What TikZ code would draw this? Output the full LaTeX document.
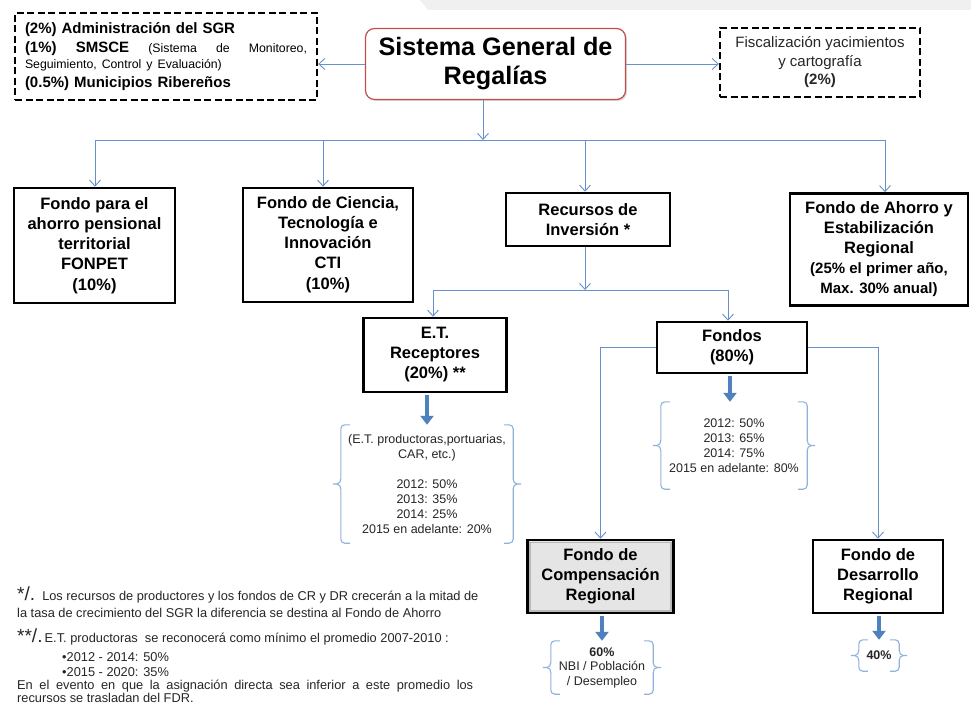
\documentclass[tikz,border=0pt]{standalone}
\usepackage{fontspec}
\setmainfont{Liberation Sans}
\usetikzlibrary{arrows.meta,calc,shadows}
\definecolor{connc}{HTML}{6591CC}
\definecolor{thickc}{HTML}{4F81BD}
\definecolor{brkc}{HTML}{8FB1DC}
\definecolor{sgrred}{HTML}{C0504D}
\definecolor{txtc}{HTML}{262626}
\newcommand\brk[1]{%
 \draw[brkline] ([xshift=9pt]#1.north west) -- ([xshift=4pt]#1.north west) to[out=180,in=90] ([yshift=-4pt]#1.north west) -- ([yshift=5pt]#1.west) to[out=-90,in=0] ([xshift=-4pt]#1.west) -- ([xshift=-8pt]#1.west);
 \draw[brkline] ([xshift=-4pt]#1.west) to[out=0,in=90] ([yshift=-5pt]#1.west) -- ([yshift=4pt]#1.south west) to[out=-90,in=180] ([xshift=4pt]#1.south west) -- ([xshift=9pt]#1.south west);
 \draw[brkline] ([xshift=-9pt]#1.north east) -- ([xshift=-4pt]#1.north east) to[out=0,in=90] ([yshift=-4pt]#1.north east) -- ([yshift=5pt]#1.east) to[out=-90,in=180] ([xshift=4pt]#1.east) -- ([xshift=8pt]#1.east);
 \draw[brkline] ([xshift=4pt]#1.east) to[out=180,in=90] ([yshift=-5pt]#1.east) -- ([yshift=4pt]#1.south east) to[out=-90,in=0] ([xshift=-4pt]#1.south east) -- ([xshift=-9pt]#1.south east);}
\begin{document}
\begin{tikzpicture}[x=1pt,y=-1pt,
  box/.style={draw=black, line width=2.6pt, fill=white, align=center, inner sep=0pt,
    font=\fontsize{16.5}{20}\selectfont\bfseries,
    drop shadow={shadow xshift=1.2pt, shadow yshift=-1.2pt, opacity=0.35}},
  dbox/.style={draw=black, line width=2.4pt, dash pattern=on 7pt off 3.5pt, fill=white, inner sep=0pt},
  conn/.style={draw=connc, line width=0.9pt},
  carr/.style={conn, -{Straight Barb[length=6pt,width=11pt,line width=0.9pt]}},
  tk/.style={draw=thickc, line width=3.6pt, -{Triangle[length=9pt,width=13pt]}, shorten <=2pt},
  brkline/.style={draw=brkc, line width=1.1pt},
  btxt/.style={inner sep=0pt, align=center, text=txtc, font=\fontsize{12.5}{15}\selectfont},
  fn/.style={inner sep=0pt, anchor=base west, text=txtc, font=\fontsize{12.8}{15}\selectfont}]
\useasboundingbox (0,0) rectangle (971,708);
\fill[white] (0,0) rectangle (971,708);
\fill[gray!12] (420,0) -- (971,0) -- (971,10) -- (428,10) -- cycle;

% top row
\node[draw=sgrred, line width=1.2pt, rounded corners=9pt, fill=white, minimum width=260pt, minimum height=71pt,
  inner sep=0pt, align=center, font=\fontsize{25.2}{29}\selectfont\bfseries,
  drop shadow={shadow xshift=1.5pt, shadow yshift=-1.5pt, opacity=0.3}] (sgr) at (495.5,64)
  {Sistema General de\\Regalías};
\node[dbox, minimum width=302pt, minimum height=87pt, text width=282pt, align=left,
  font=\fontsize{15}{19}\selectfont\bfseries] (adm) at (166,56.5)
  {(2\%) Administración del SGR\\
   \leavevmode\hbox to 282pt{(1\%)\hfill SMSCE\hfill\mdseries\fontsize{12.3}{14}\selectfont (Sistema\hfill de\hfill Monitoreo,}\\[-3pt]
   {\mdseries\fontsize{12.3}{14}\selectfont Seguimiento, Control y Evaluación)}\\
   (0.5\%) Municipios Ribereños};
\node[dbox, minimum width=200pt, minimum height=69pt, align=center, text=txtc,
  font=\fontsize{15}{18.5}\selectfont] (fisc) at (820,62.5)
  {Fiscalización yacimientos\\y cartografía\\\textbf{(2\%)}};
\draw[carr] (sgr.west) -- (sgr.west -| adm.east);
\draw[carr] (sgr.east) -- (sgr.east -| fisc.west);

% second row
\node[box, minimum width=161pt, minimum height=115pt] (fonpet) at (94.5,245.5)
  {Fondo para el\\ahorro pensional\\territorial\\FONPET\\[1pt](10\%)};
\node[box, minimum width=170pt, minimum height=114pt] (cti) at (328,245)
  {Fondo de Ciencia,\\Tecnología e\\Innovación\\CTI\\[1pt](10\%)};
\node[box, minimum width=164pt, minimum height=53pt] (rec) at (588,219.5)
  {Recursos de\\Inversión *};
\node[box, minimum width=178pt, minimum height=112pt] (ahorro) at (879,249.5)
  {Fondo de Ahorro y\\Estabilización\\Regional\\{\fontsize{15}{19}\selectfont (25\% el primer año,}\\{\fontsize{15}{18}\selectfont Max. 30\% anual)}};

\coordinate (j1) at (483,140);
\draw[carr] (sgr.south -| j1) -- (j1);
\draw[carr] (j1) -| ([xshift=0.5pt]fonpet.north);
\draw[carr] (j1) -| ([xshift=-5pt]cti.north);
\draw[carr] (j1) -| ([xshift=-3pt]rec.north);
\draw[carr] (j1) -| ([xshift=6pt]ahorro.north);

% third row
\node[box, minimum width=143pt, minimum height=74pt] (et) at (435,355)
  {E.T.\\Receptores\\(20\%) **};
\node[box, minimum width=150pt, minimum height=51pt] (fondos) at (732,347.5)
  {Fondos\\(80\%)};
\coordinate (j2) at (585,290);
\draw[carr] (rec.south -| j2) -- (j2);
\draw[carr] (j2) -| ([xshift=-2pt]et.north);
\draw[carr] (j2) -| ([xshift=-4pt]fondos.north);

% brackets under third row
\node[btxt, minimum width=172pt, minimum height=118pt] (etb) at (427,484)
  {(E.T. productoras,portuarias,\\CAR, etc.)\\[15pt]2012: 50\%\\2013: 35\%\\2014: 25\%\\2015 en adelante: 20\%};
\brk{etb}
\node[btxt, minimum width=146pt, minimum height=87pt] (fb) at (734,445.5)
  {2012: 50\%\\2013: 65\%\\2014: 75\%\\2015 en adelante: 80\%};
\brk{fb}
\draw[tk] (et.south -| etb.north) -- (etb.north);
\draw[tk] ([xshift=-2pt]fondos.south) -- ([xshift=-4pt]fb.north);

% fourth row
\node[box, minimum width=146pt, minimum height=73pt, fill=gray!20] (comp) at (600.5,576.5)
  {Fondo de\\Compensación\\Regional};
\draw[gray!55, line width=1.6pt] ([shift={(3.6pt,-3.6pt)}]comp.north west) rectangle ([shift={(-3.6pt,3.6pt)}]comp.south east);
\node[box, minimum width=130pt, minimum height=73pt] (desa) at (878,576.5)
  {Fondo de\\Desarrollo\\Regional};
\draw[carr] (fondos.west) -| (comp.north);
\draw[carr] (fondos.east) -| (desa.north);

\node[btxt, minimum width=102pt, minimum height=53pt, font=\fontsize{12.5}{14.5}\selectfont] (cb) at (602,667.5)
  {\textbf{60\%}\\NBI / Población\\/ Desempleo};
\brk{cb}
\node[btxt, minimum width=40pt, minimum height=31pt] (db) at (879,655.5) {\textbf{40\%}};
\brk{db}
\draw[tk] (comp.south -| cb.north) -- (cb.north);
\draw[tk] (desa.south -| db.north) -- (db.north);

% footnotes
\node[fn] (fn1) at (17,600) {{\fontsize{19}{19}\selectfont */.}\ \ Los recursos de productores y los fondos de CR y DR crecerán a la mitad de};
\node[fn] (fn2) at (17,617.5) {la tasa de crecimiento del SGR la diferencia se destina al Fondo de Ahorro};
\node[fn] (fn3) at (17,642) {{\fontsize{19}{19}\selectfont **/.}\,E.T. productoras \ se reconocerá como mínimo el promedio 2007-2010 :};
\node[fn] (fn4) at (62,661.5) {•2012 - 2014: 50\%};
\node[fn] (fn5) at (62,676.5) {•2015 - 2020: 35\%};
\node[fn] (fn6) at (17,689.5) {\makebox[456pt][s]{En el evento en que la asignación directa sea inferior a este promedio los}};
\node[fn] (fn7) at (17,702.5) {recursos se trasladan del FDR.};
\end{tikzpicture}
\end{document}
